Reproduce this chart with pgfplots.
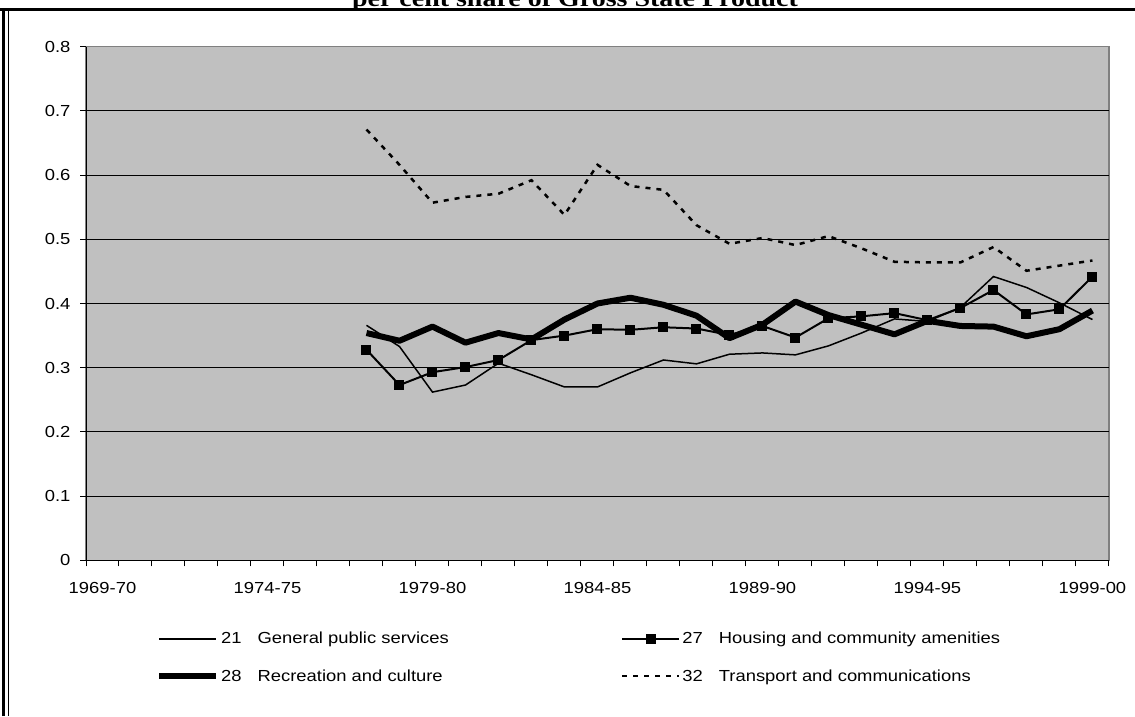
\documentclass[border=0pt]{standalone}
\usepackage{fontspec}
\setmainfont{Liberation Sans}[FakeStretch=1.15]
\newfontfamily\titlefont{Liberation Serif}[FakeStretch=1.19]
\usepackage{pgfplots}
\pgfplotsset{compat=1.18}
\definecolor{plotgray}{HTML}{C0C0C0}
\definecolor{bordergray}{HTML}{808080}

\pgfplotstableread{
idx gps housing recreation transport
8  0.366 0.328 0.354 0.671
9  0.333 0.273 0.342 0.616
10 0.262 0.293 0.364 0.557
11 0.273 0.301 0.339 0.566
12 0.307 0.312 0.354 0.571
13 0.289 0.343 0.344 0.592
14 0.270 0.350 0.375 0.538
15 0.270 0.360 0.400 0.616
16 0.292 0.359 0.409 0.583
17 0.312 0.363 0.398 0.577
18 0.306 0.361 0.381 0.522
19 0.321 0.351 0.346 0.493
20 0.323 0.365 0.367 0.502
21 0.320 0.347 0.403 0.491
22 0.334 0.377 0.382 0.505
23 0.354 0.380 0.367 0.486
24 0.376 0.385 0.352 0.465
25 0.372 0.374 0.373 0.464
26 0.394 0.393 0.365 0.464
27 0.442 0.421 0.364 0.488
28 0.425 0.383 0.349 0.451
29 0.401 0.391 0.360 0.459
30 0.375 0.442 0.389 0.467
}\datatable

\begin{document}
\begin{tikzpicture}
\path[use as bounding box] (0pt,0pt) rectangle (1135pt,716pt);
\node[anchor=base, inner sep=0pt, font=\titlefont\bfseries\fontsize{23.5}{28}\selectfont] at (575pt,709pt) {per cent share of Gross State Product};
\fill[white] (0pt,708pt) rectangle (1135pt,703pt);
\draw[line width=3pt] (0pt,706.5pt) -- (1135pt,706.5pt);
\draw[line width=3pt] (3.5pt,0pt) -- (3.5pt,708pt);
\draw[line width=1.5pt] (8.5pt,0pt) -- (8.5pt,705.5pt);
\begin{axis}[
  at={(86pt,155.7pt)}, anchor=south west,
  scale only axis, width=1023pt, height=513.6pt,
  xmin=-0.5, xmax=30.5, ymin=0, ymax=0.8,
  axis background/.style={fill=plotgray, draw=bordergray, line width=1.5pt},
  axis lines*=left,
  axis line style={black, line width=1pt},
  tick align=outside,
  major tick length=6pt,
  tick style={black, line width=1pt},
  xtick={-0.5,0.5,...,30.5},
  xticklabels={},
  extra x ticks={0,5,10,15,20,25,30},
  extra x tick labels={1969-70,1974-75,1979-80,1984-85,1989-90,1994-95,1999-00},
  extra x tick style={major tick length=0pt},
  ytick={0,0.1,0.2,0.3,0.4,0.5,0.6,0.7},
  yticklabels={0,0.1,0.2,0.3,0.4,0.5,0.6,0.7},
  extra y ticks={0.8},
  extra y tick labels={0.8},
  extra y tick style={grid=none},
  ymajorgrids,
  major grid style={black, line width=0.9pt},
  tick label style={font=\fontsize{16}{19}\selectfont},
  yticklabel style={xshift=-6pt},
  xticklabel style={yshift=-18pt},
  legend columns=2,
  legend cell align=left,
  legend style={draw=none, fill=none, at={(0.0684,-0.136)}, anchor=north west,
    font=\fontsize{16}{19}\selectfont, inner sep=0pt,
    row sep=20pt,
    /tikz/every even column/.append style={column sep=170pt}},
  legend image code/.code={\draw[mark repeat=2,mark phase=2,#1] plot coordinates {(0pt,0pt) (28.5pt,0pt) (57pt,0pt)};},
]
\addplot[black, line width=1.5pt, mark=none] table[x=idx,y=gps] {\datatable};
\addlegendentry{21\hspace{16pt}General public services}
\addplot[black, line width=2pt, mark=square*, mark size=4pt, mark options={solid}] table[x=idx,y=housing] {\datatable};
\addlegendentry{27\hspace{16pt}Housing and community amenities}
\addplot[black, line width=6pt, mark=none, line join=round] table[x=idx,y=recreation] {\datatable};
\addlegendentry{28\hspace{16pt}Recreation and culture}
\addplot[black, line width=2.5pt, mark=none, dash pattern=on 5pt off 6pt] table[x=idx,y=transport] {\datatable};
\addlegendentry{32\hspace{16pt}Transport and communications}
\end{axis}
\end{tikzpicture}
\end{document}
